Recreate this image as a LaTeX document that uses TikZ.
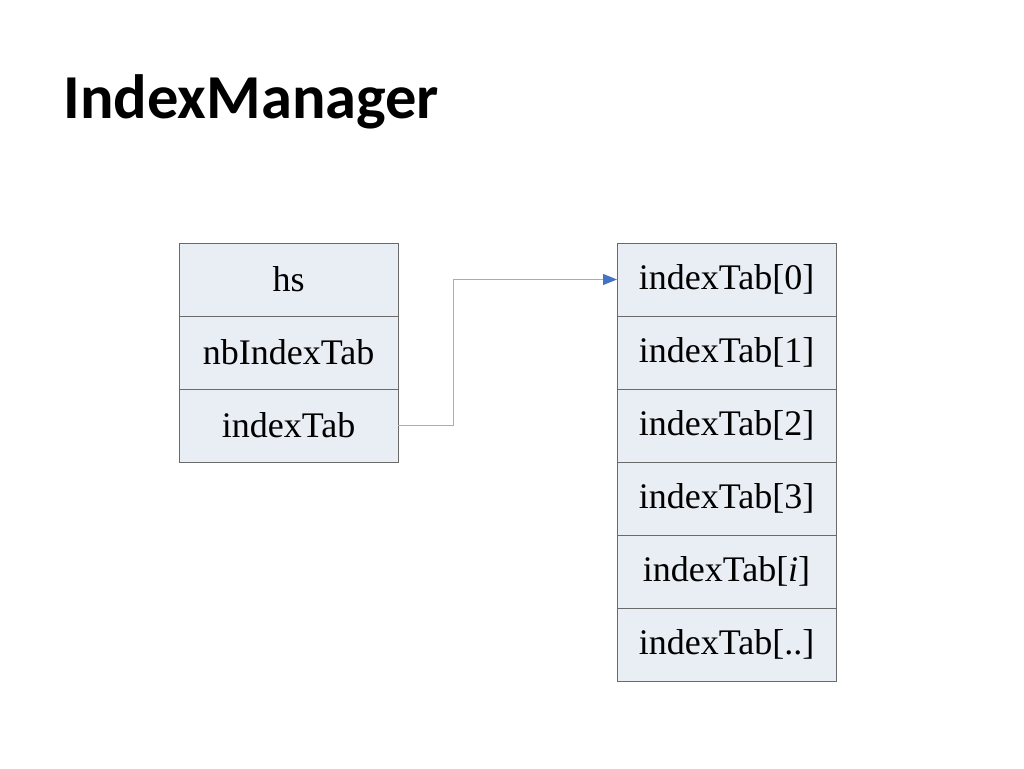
\documentclass[tikz,border=0pt]{standalone}
\usepackage{fontspec}
\setmainfont{Liberation Serif}
\newfontfamily\titlefont{Carlito}
\usepackage{tikz}
\usetikzlibrary{positioning}
\usetikzlibrary{arrows.meta}
\definecolor{cellfill}{HTML}{E9EDF4}
\definecolor{cellline}{HTML}{6A6A6A}
\definecolor{linkline}{HTML}{94B0DA}
\definecolor{linktip}{HTML}{4472C4}

\begin{document}
\begin{tikzpicture}[x=1pt,y=-1pt,
  cell/.style={draw=cellline,fill=cellfill,line width=0.8pt,minimum width=219pt,
    minimum height=73pt,inner sep=0pt,outer sep=0pt,
    font=\fontsize{36}{40}\selectfont},
  link/.style={linkline,line width=1pt,-{Triangle[length=14pt,width=11pt,color=linktip]}}]
\useasboundingbox (0,0) rectangle (1024,768);

\node[anchor=base west,font=\titlefont\bfseries\fontsize{62.5}{72}\selectfont] (title) at (60,118){IndexManager};

% structure
\node[cell] (hs) at (288.5,279.5){hs};
\node[cell,below=0pt of hs] (nb){nbIndexTab};
\node[cell,below=0pt of nb] (tab){indexTab};

% table
\node[cell] (t0) at (726.5,279.5){indexTab[0]};
\node[cell,below=0pt of t0] (t1){indexTab[1]};
\node[cell,below=0pt of t1] (t2){indexTab[2]};
\node[cell,below=0pt of t2] (t3){indexTab[3]};
\node[cell,below=0pt of t3] (ti){indexTab[\textit{i}]};
\node[cell,below=0pt of ti] (tn){indexTab[..]};

\draw[link](tab.east)-- ++(55,0) |- (t0.west);

    \end{tikzpicture}
\end{document}
